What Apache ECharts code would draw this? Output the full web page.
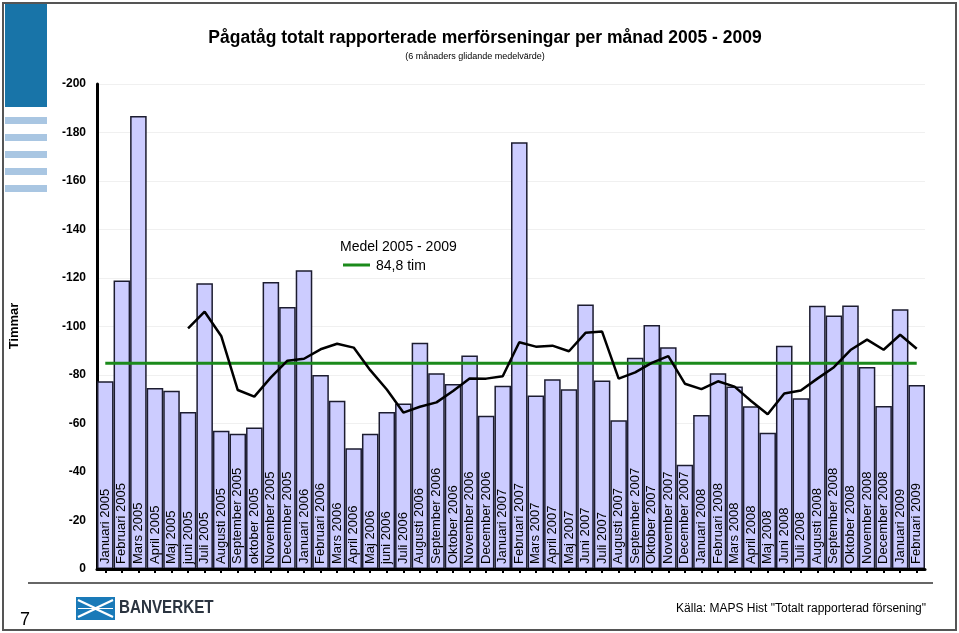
<!DOCTYPE html>
<html>
<head>
<meta charset="utf-8">
<script src="https://cdn.jsdelivr.net/npm/echarts@6/dist/echarts.min.js"></script>
<style>
html,body{margin:0;padding:0;background:#fff;}
#c{width:959px;height:633px;}
</style>
</head>
<body>
<div id="c"></div>
<script>
const categories = [
  "Januari 2005","Februari 2005","Mars 2005","April 2005","Maj 2005","juni 2005","Juli 2005","Augusti 2005","September 2005","oktober 2005","November 2005","December 2005",
  "Januari 2006","Februari 2006","Mars 2006","April 2006","Maj 2006","juni 2006","Juli 2006","Augusti 2006","September 2006","Oktober 2006","November 2006","December 2006",
  "Januari 2007","Februari 2007","Mars 2007","April 2007","Maj 2007","Juni 2007","Juli 2007","Augusti 2007","September 2007","Oktober 2007","November 2007","December 2007",
  "Januari 2008","Februari 2008","Mars 2008","April 2008","Maj 2008","Juni 2008","Juli 2008","Augusti 2008","September 2008","Oktober 2008","November 2008","December 2008",
  "Januari 2009","Februari 2009"
];
const monthlyHours = [
  77.4,119.0,186.8,74.6,73.5,64.7,117.8,57.0,55.8,58.4,118.4,108.0,
  123.2,80.0,69.4,49.8,55.8,64.7,68.2,93.3,80.7,76.3,88.0,63.2,
  75.6,176.0,71.5,78.2,74.1,109.1,77.7,61.3,87.1,100.6,91.4,43.0,
  63.5,80.7,75.3,67.1,56.2,92.1,70.4,108.6,104.5,108.7,83.3,67.2,
  107.1,75.9
];
const movingAvg6 = [
  null,null,null,null,null,99.2,106.1,96.1,73.8,71.1,79.0,85.9,
  86.7,90.6,92.9,91.3,82.0,74.0,64.5,66.9,68.7,73.4,78.6,78.5,
  79.5,93.5,91.7,92.1,89.8,97.4,97.9,78.5,81.1,85.0,87.8,76.4,
  74.2,77.4,75.2,69.3,63.8,72.4,73.6,78.5,83.2,90.3,94.6,90.4,
  96.6,90.8
];
const meanValue = 84.8;
const meanLine = categories.map(() => meanValue);
const yTicks = [0,20,40,60,80,100,120,140,160,180,200];

const FONT = '"Liberation Sans", Arial, sans-serif';
const chart = echarts.init(document.getElementById('c'), null, {renderer:'canvas'});

chart.setOption({
  animation: false,
  backgroundColor: '#fff',
  grid: {left: 97, right: 34, top: 84, bottom: 64, containLabel: false},
  xAxis: {
    type: 'category',
    data: categories,
    boundaryGap: true,
    z: 10,
    axisLine: {show: true, lineStyle: {color: '#000', width: 3}},
    axisTick: {show: true, alignWithLabel: true, length: 4, lineStyle: {color: '#000', width: 2}},
    axisLabel: {
      show: true, inside: true, rotate: 90, interval: 0, margin: 5, hideOverlap: false,
      fontFamily: FONT, fontSize: 13, color: '#000'
    },
    splitLine: {show: false}
  },
  yAxis: {
    type: 'value',
    min: yTicks[0], max: yTicks[yTicks.length - 1], interval: 20,
    axisLine: {show: true, lineStyle: {color: '#000', width: 3}},
    axisTick: {show: false},
    axisLabel: {
      fontFamily: FONT, fontSize: 12, fontWeight: 'bold', color: '#000', margin: 11,
      formatter: v => (v === 0 ? '0' : '-' + v)
    },
    splitLine: {show: true, lineStyle: {color: '#f0f0f0', width: 1}}
  },
  series: [
    {
      type: 'bar',
      data: monthlyHours,
      barCategoryGap: '0%',
      itemStyle: {color: '#ccccff', borderColor: '#1c1c30', borderWidth: 1.5},
      z: 1
    },
    {
      type: 'line',
      data: meanLine,
      showSymbol: false,
      symbol: 'none',
      lineStyle: {color: '#1b8a1b', width: 3},
      z: 3
    },
    {
      type: 'line',
      data: movingAvg6,
      showSymbol: false,
      symbol: 'none',
      connectNulls: false,
      lineStyle: {color: '#000', width: 2.5},
      z: 4
    }
  ],
  graphic: [
    {type: 'rect', shape: {x: 3, y: 3, width: 953, height: 627}, style: {fill: 'none', stroke: '#555', lineWidth: 2}, silent: true},
    {type: 'rect', shape: {x: 5, y: 4, width: 42, height: 103}, style: {fill: '#1874a8'}, silent: true},
    {type: 'rect', shape: {x: 5, y: 117, width: 42, height: 7}, style: {fill: '#a9c6e2'}, silent: true},
    {type: 'rect', shape: {x: 5, y: 134, width: 42, height: 7}, style: {fill: '#a9c6e2'}, silent: true},
    {type: 'rect', shape: {x: 5, y: 151, width: 42, height: 7}, style: {fill: '#a9c6e2'}, silent: true},
    {type: 'rect', shape: {x: 5, y: 168, width: 42, height: 7}, style: {fill: '#a9c6e2'}, silent: true},
    {type: 'rect', shape: {x: 5, y: 185, width: 42, height: 7}, style: {fill: '#a9c6e2'}, silent: true},
    {type: 'text', x: 485, y: 38, style: {text: 'Pågatåg totalt rapporterade merförseningar per månad 2005 - 2009', fontFamily: FONT, fontSize: 17.5, fontWeight: 'bold', fill: '#000', align: 'center', verticalAlign: 'middle'}},
    {type: 'text', x: 475, y: 57, style: {text: '(6 månaders glidande medelvärde)', fontFamily: FONT, fontSize: 9, fill: '#000', align: 'center', verticalAlign: 'middle'}},
    {type: 'text', x: 14, y: 326, rotation: Math.PI / 2, style: {text: 'Timmar', fontFamily: FONT, fontSize: 13, fontWeight: 'bold', fill: '#000', align: 'center', verticalAlign: 'middle'}},
    {type: 'text', x: 340, y: 247, style: {text: 'Medel 2005 - 2009', fontFamily: FONT, fontSize: 14, fill: '#000', align: 'left', verticalAlign: 'middle'}},
    {type: 'line', shape: {x1: 343, y1: 265, x2: 370, y2: 265}, style: {stroke: '#1b8a1b', lineWidth: 3}},
    {type: 'text', x: 376, y: 266, style: {text: '84,8 tim', fontFamily: FONT, fontSize: 14, fill: '#000', align: 'left', verticalAlign: 'middle'}},
    {type: 'line', shape: {x1: 28, y1: 583, x2: 933, y2: 583}, style: {stroke: '#333', lineWidth: 1.5}},
    {type: 'text', x: 25, y: 620, style: {text: '7', fontFamily: FONT, fontSize: 18, fill: '#000', align: 'center', verticalAlign: 'middle'}},
    {type: 'rect', shape: {x: 76, y: 597, width: 39, height: 23}, style: {fill: '#1a7ab8'}},
    {type: 'polyline', shape: {points: [[78, 600], [96, 608.5], [78, 617]]}, style: {stroke: '#fff', lineWidth: 2.2, fill: 'none'}},
    {type: 'polyline', shape: {points: [[113, 600], [95, 608.5], [113, 617]]}, style: {stroke: '#fff', lineWidth: 2.2, fill: 'none'}},
    {type: 'line', shape: {x1: 78, y1: 608.5, x2: 113, y2: 608.5}, style: {stroke: '#fff', lineWidth: 1.2}},
    {type: 'text', x: 119, y: 608, scaleX: 0.8, style: {text: 'BANVERKET', fontFamily: FONT, fontSize: 19, fontWeight: 'bold', fill: '#2b3440', align: 'left', verticalAlign: 'middle'}},
    {type: 'text', x: 926, y: 609, style: {text: 'Källa: MAPS Hist "Totalt rapporterad försening"', fontFamily: FONT, fontSize: 12, fill: '#000', align: 'right', verticalAlign: 'middle'}}
  ]
});
</script>
</body>
</html>
